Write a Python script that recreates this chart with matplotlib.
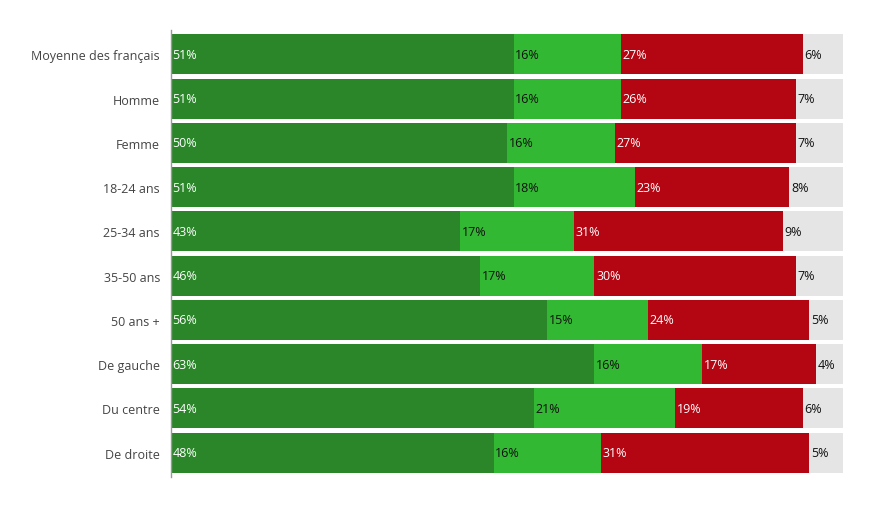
import matplotlib.pyplot as plt
import numpy as np

categories = ['Moyenne des français', 'Homme', 'Femme', '18-24 ans', '25-34 ans',
              '35-50 ans', '50 ans +', 'De gauche', 'Du centre', 'De droite']
very_positive = [51, 51, 50, 51, 43, 46, 56, 63, 54, 48]
positive = [16, 16, 16, 18, 17, 17, 15, 16, 21, 16]
negative = [27, 26, 27, 23, 31, 30, 24, 17, 19, 31]
no_answer = [6, 7, 7, 8, 9, 7, 5, 4, 6, 5]

series = [very_positive, positive, negative, no_answer]
colors = ['#2a8629', '#33b833', '#b30612', '#e5e5e5']
text_colors = ['white', '#111111', 'white', '#111111']

plt.rcParams['font.family'] = ['Open Sans', 'DejaVu Sans']

fig = plt.figure(figsize=(8.83, 5.1), dpi=100)
ax = fig.add_axes([171 / 883, 1 - 478 / 510, (843 - 171) / 883, (478 - 31) / 510])

y = np.arange(len(categories))
left = np.zeros(len(categories))
for vals, col, tcol in zip(series, colors, text_colors):
    vals = np.array(vals, dtype=float)
    ax.barh(y, vals, left=left, height=0.9, color=col, linewidth=0)
    for yi, (l, v) in enumerate(zip(left, vals)):
        ax.text(l + 0.25, yi, f'{int(v)}%', va='center', ha='left', color=tcol, fontsize=9)
    left += vals

ax.set_xlim(0, 100)
ax.set_ylim(len(categories) - 0.45, -0.55)
ax.set_yticks(y)
ax.set_yticklabels(categories, fontsize=9, color='#444444')
ax.tick_params(axis='y', length=0, pad=8)
ax.set_xticks([])
for s in ['top', 'right', 'bottom']:
    ax.spines[s].set_visible(False)
ax.spines['left'].set_color('#999999')
ax.spines['left'].set_linewidth(1)

fig.savefig('out.png', dpi=100)
